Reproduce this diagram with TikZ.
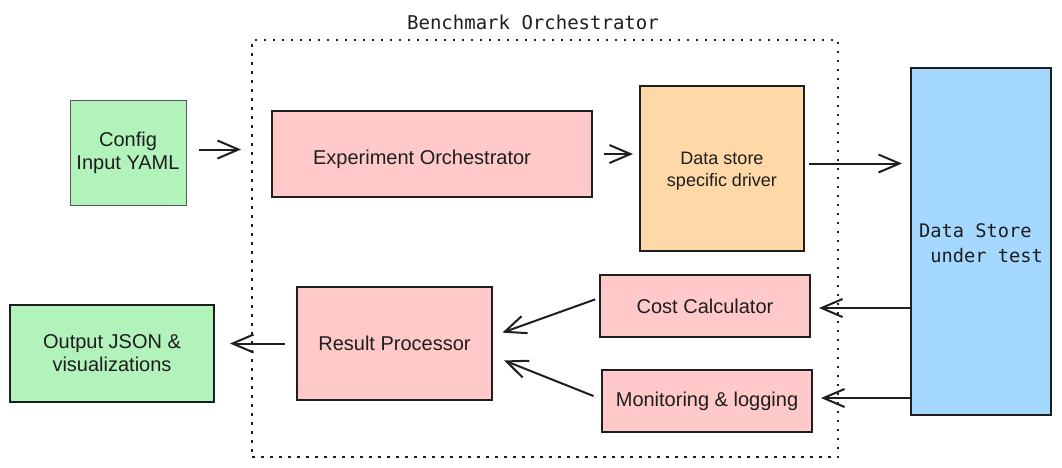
\documentclass[tikz,border=0pt]{standalone}
\usepackage{fontspec}
\setmainfont{Liberation Sans}
\newfontfamily\monof{DejaVu Sans Mono}
\usetikzlibrary{arrows.meta,positioning}
\definecolor{ink}{HTML}{1E1E1E}
\definecolor{gfill}{HTML}{B2F2BB}
\definecolor{rfill}{HTML}{FFC9C9}
\definecolor{ofill}{HTML}{FFD8A8}
\definecolor{bfill}{HTML}{A5D8FF}
\newcommand\lowerby[2]{\raisebox{-#1}[\height][\depth]{#2}}
\tikzset{
  boxstyle/.style={draw=ink, line width=2pt, text=ink, align=center, inner sep=0pt,
     font=\fontsize{20}{23}\selectfont},
  arr/.style={draw=ink, line width=2pt, -{Straight Barb[length=21pt,width=18pt,line width=2pt]}},
}
\begin{document}
\begin{tikzpicture}[x=1pt,y=-1pt]
\useasboundingbox (0,0) rectangle (1062,467);
\node[draw=ink, line width=2.5pt, dash pattern=on 2.5pt off 6.5pt, minimum width=586pt, minimum height=417pt, inner sep=0pt] (frame) at (545,248.5) {};
\node[text=ink, font=\monof\fontsize{19}{22}\selectfont] (title) at (533,22) {Benchmark Orchestrator};
\node[boxstyle, fill=gfill, draw=black!65, line width=1pt, minimum width=116pt, minimum height=105pt] (config) at (128,152.5) {Config\\Input YAML};
\node[boxstyle, fill=rfill, minimum width=320pt, minimum height=86pt] (exp) at (432,154) {\hspace*{-20pt}\lowerby{5pt}{Experiment Orchestrator}};
\node[boxstyle, fill=ofill, minimum width=164pt, minimum height=165pt, font=\fontsize{18}{22}\selectfont] (driver) at (722,168.5) {\lowerby{3pt}{\begin{tabular}{@{}c@{}}Data store\\specific driver\end{tabular}}};
\node[boxstyle, fill=bfill, minimum width=140pt, minimum height=347pt, font=\monof\fontsize{18.7}{25}\selectfont] (ds) at (981,241.5) {\lowerby{3pt}{\begin{tabular}{@{}l@{}}Data Store\\\ under test\end{tabular}}};
\node[boxstyle, fill=rfill, minimum width=210pt, minimum height=62pt] (cost) at (705,306) {Cost Calculator};
\node[boxstyle, fill=rfill, minimum width=210pt, minimum height=62pt] (mon) at (707,401) {Monitoring \& logging};
\node[boxstyle, fill=rfill, minimum width=195pt, minimum height=113pt] (result) at (394.5,343.5) {Result Processor};
\node[boxstyle, fill=gfill, minimum width=204pt, minimum height=97pt] (output) at (112,353.5) {Output JSON \&\\visualizations};
\draw[arr, shorten <=12pt, shorten >=30pt] ([yshift=3pt]config.east) -- ([yshift=3pt]config.east -| exp.west);
\draw[arr, shorten <=11pt, shorten >=6pt] (exp.east) -- (exp.east -| driver.west);
\draw[arr, shorten <=4pt, shorten >=8pt] ([yshift=5pt]driver.east) -- ([yshift=5pt]driver.east -| ds.west);
\draw[arr, shorten >=8pt] ([yshift=-2pt]ds.west |- cost.east) -- ([yshift=-2pt]cost.east);
\draw[arr, shorten >=8pt] ([yshift=3pt]ds.west |- mon.east) -- ([yshift=3pt]mon.east);
\draw[arr, shorten <=4pt, shorten >=10pt] ([yshift=8pt]cost.west) -- ([yshift=7.5pt]result.east);
\draw[arr, shorten <=8pt, shorten >=12pt] ([yshift=2pt]mon.west) -- ([yshift=-12.5pt]result.east);
\draw[arr, shorten <=11pt, shorten >=15pt] (result.west) -- (result.west -| output.east);
\end{tikzpicture}
\end{document}
